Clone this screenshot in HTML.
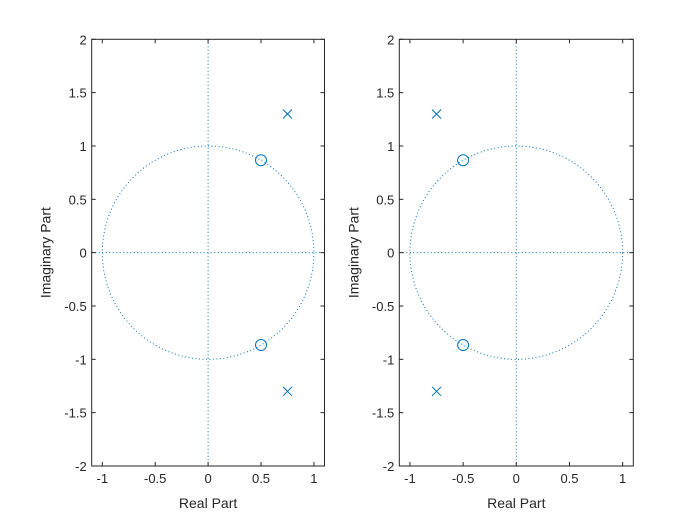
<!DOCTYPE html>
<html><head><meta charset="utf-8"><style>
body{margin:0;background:#fff}
svg text{font-family:"Liberation Sans",Arial,sans-serif;fill:#262626}
</style></head><body>
<svg id="c" width="700" height="525" xmlns="http://www.w3.org/2000/svg"></svg>
<script>
const ticksX=[-1,-0.5,0,0.5,1];
const ticksY=[-2,-1.5,-1,-0.5,0,0.5,1,1.5,2];
const zerosL=[[0.5,0.866],[0.5,-0.866]];
const polesL=[[0.75,1.3],[0.75,-1.3]];
const zerosR=[[-0.5,0.866],[-0.5,-0.866]];
const polesR=[[-0.75,1.3],[-0.75,-1.3]];
const NS="http://www.w3.org/2000/svg";
const svg=document.getElementById('c');
const C='#0072BD';
function mk(t,a,p){const e=document.createElementNS(NS,t);for(const k in a)e.setAttribute(k,a[k]);(p||svg).appendChild(e);return e;}
function panel(left,right,zeros,poles,name){
  const top=39.3,bot=466,xmin=-1.1,xmax=1.1,ymin=-2,ymax=2;
  const g=mk('g',{});
  
  
  const sx=v=>left+(v-xmin)/(xmax-xmin)*(right-left);
  const sy=v=>bot-(v-ymin)/(ymax-ymin)*(bot-top);
  // unit circle
  const circ=mk('ellipse',{cx:sx(0),cy:sy(0),rx:sx(1)-sx(0),ry:sy(0)-sy(1),fill:'none',stroke:C,'stroke-width':1,'stroke-dasharray':'1 2.5'},g);
  
  
  const vl=mk('line',{x1:sx(0),x2:sx(0),y1:top,y2:bot,stroke:C,'stroke-width':1,'stroke-dasharray':'1 2.5'},g);
  
  
  const hl=mk('line',{x1:left,x2:right,y1:sy(0),y2:sy(0),stroke:C,'stroke-width':1,'stroke-dasharray':'1 2.5'},g);
  
  
  zeros.forEach(z=>{const e=mk('circle',{cx:sx(z[0]),cy:sy(z[1]),r:5.5,fill:'none',stroke:C,'stroke-width':1},g);
    
    });
  poles.forEach(p=>{const x=sx(p[0]),y=sy(p[1]),d=4.5;
    const e=mk('path',{d:`M${x-d},${y-d}L${x+d},${y+d}M${x-d},${y+d}L${x+d},${y-d}`,stroke:C,'stroke-width':1,fill:'none'},g);
    
    });
  const box=mk('rect',{x:left,y:top,width:right-left,height:bot-top,fill:'none',stroke:'#262626','stroke-width':1},g);
  
  
  ticksX.forEach(v=>{const x=sx(v);
    mk('line',{x1:x,x2:x,y1:bot,y2:bot-4,stroke:'#262626'},g);mk('line',{x1:x,x2:x,y1:top,y2:top+4,stroke:'#262626'},g);
    const t=mk('text',{x:x,y:bot+17,'font-size':13,'text-anchor':'middle'},g);t.textContent=String(v);
    
    });
  ticksY.forEach(v=>{const y=sy(v);
    mk('line',{x1:left,x2:left+4,y1:y,y2:y,stroke:'#262626'},g);mk('line',{x1:right,x2:right-4,y1:y,y2:y,stroke:'#262626'},g);
    const t=mk('text',{x:left-5,y:y+5,'font-size':13,'text-anchor':'end'},g);t.textContent=String(v);
    
    });
  const xl=mk('text',{x:(left+right)/2,y:508,'font-size':14,'text-anchor':'middle'},g);xl.textContent='Real Part';
  
  
  const yl=mk('text',{x:0,y:0,'font-size':14,'text-anchor':'middle',transform:`translate(${left-41},${(top+bot)/2}) rotate(-90)`},g);yl.textContent='Imaginary Part';
  
  
}
panel(91.7,324.5,zerosL,polesL,'left-pole-zero-plot');
panel(399.3,633.3,zerosR,polesR,'right-pole-zero-plot');
</script>
</body></html>
